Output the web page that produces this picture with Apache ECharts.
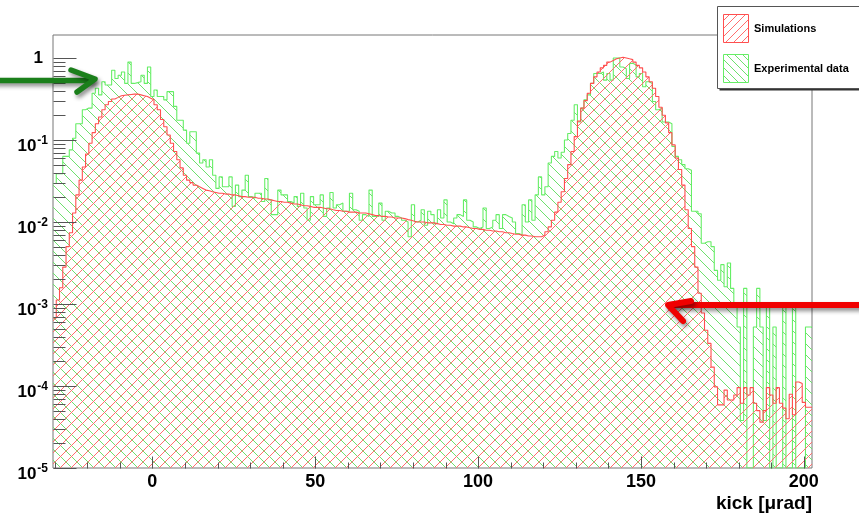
<!DOCTYPE html>
<html>
<head>
<meta charset="utf-8">
<title>kick distribution</title>
<script src="https://cdn.jsdelivr.net/npm/echarts@6.0.0/dist/echarts.min.js"></script>
<style>
  html, body { margin: 0; padding: 0; background: #ffffff; }
  #chart { width: 859px; height: 515px; }
</style>
</head>
<body>
<div id="chart"></div>
<script>
// Histogram binning: 1 µrad bins, first bin starts at -30.5
const binLow = -30.5;
const binWidth = 1;

// Simulated kick distribution, one value per bin (bins centred on -30 ... 202)
const simulations = [
  0.000676, 0.00112, 0.00158, 0.00282, 0.00501, 0.00741, 0.0129, 0.0214, 0.0324, 0.0468,
  0.0676, 0.0912, 0.123, 0.158, 0.191, 0.234, 0.269, 0.295, 0.316, 0.331,
  0.347, 0.351, 0.355, 0.359, 0.363, 0.363, 0.355, 0.347, 0.339, 0.324,
  0.309, 0.269, 0.234, 0.178, 0.145, 0.115, 0.0912, 0.0724, 0.0575, 0.0457,
  0.0372, 0.0324, 0.0302, 0.0282, 0.0269, 0.0257, 0.0245, 0.0240, 0.0234, 0.0229,
  0.0224, 0.0224, 0.0219, 0.0219, 0.0214, 0.0214, 0.0209, 0.0204, 0.0204, 0.0200,
  0.0200, 0.0200, 0.0195, 0.0195, 0.0191, 0.0191, 0.0186, 0.0182, 0.0178, 0.0178,
  0.0174, 0.0174, 0.0170, 0.0166, 0.0166, 0.0162, 0.0158, 0.0158, 0.0155, 0.0151,
  0.0151, 0.0151, 0.0148, 0.0145, 0.0145, 0.0141, 0.0138, 0.0138, 0.0135, 0.0135,
  0.0132, 0.0132, 0.0132, 0.0129, 0.0129, 0.0129, 0.0126, 0.0123, 0.0120, 0.0120,
  0.0117, 0.0117, 0.0115, 0.0115, 0.0112, 0.0112, 0.0112, 0.0110, 0.0107, 0.0105,
  0.0102, 0.0100, 0.0100, 0.0100, 0.00977, 0.00977, 0.00977, 0.00955, 0.00933, 0.00933,
  0.00912, 0.00912, 0.00891, 0.00891, 0.00891, 0.00871, 0.00871, 0.00851, 0.00832, 0.00832,
  0.00813, 0.00813, 0.00794, 0.00794, 0.00776, 0.00776, 0.00759, 0.00759, 0.00741, 0.00741,
  0.00724, 0.00708, 0.00708, 0.00692, 0.00692, 0.00676, 0.00676, 0.00661, 0.00661, 0.00661,
  0.00692, 0.00759, 0.00871, 0.0105, 0.0132, 0.0174, 0.0234, 0.0339, 0.0501, 0.0724,
  0.110, 0.170, 0.245, 0.302, 0.372, 0.490, 0.589, 0.676, 0.759, 0.813,
  0.891, 0.933, 0.977, 1.00, 1.02, 1.00, 0.977, 0.955, 0.891, 0.813,
  0.759, 0.676, 0.589, 0.513, 0.427, 0.339, 0.251, 0.200, 0.162, 0.123,
  0.0871, 0.0603, 0.0437, 0.0282, 0.0141, 0.00832, 0.00501, 0.00282, 0.00135, 0.000776,
  0.000479, 0.000331, 0.000170, 0.0000977, 0.0000589, 0.0000589, 0.0000891, 0.0000676, 0.0000676, 0.0000776,
  0.0000955, 0.0000617, 0.0000955, 0.0000776, 0.0000955, 0.0000617, 0.0000501, 0.0000363, 0.0000501, 0.0000955,
  0.0000776, 0.0000617, 0.0000955, 0.0000617, 0.0000537, 0.0000398, 0.0000794, 0.0000447, 0.000112, 0.000107,
  0.0000631, 0.0000550, 0.0000550
];

// Measured kick distribution, same binning (0 = empty bin)
const experimental = [
  0.0295, 0.0389, 0.0389, 0.0631, 0.0631, 0.0759, 0.105, 0.158, 0.158, 0.234,
  0.245, 0.245, 0.372, 0.427, 0.355, 0.513, 0.468, 0.468, 0.708, 0.562,
  0.617, 0.676, 0.490, 0.891, 0.490, 0.501, 0.513, 0.617, 0.490, 0.776,
  0.339, 0.407, 0.339, 0.339, 0.309, 0.389, 0.389, 0.257, 0.174, 0.174,
  0.132, 0.0912, 0.126, 0.126, 0.0692, 0.0525, 0.0575, 0.0468, 0.0575, 0.0372,
  0.0257, 0.0355, 0.0269, 0.0269, 0.0355, 0.0155, 0.0282, 0.0204, 0.0245, 0.0372,
  0.0204, 0.0195, 0.0224, 0.0224, 0.0178, 0.0339, 0.0186, 0.0123, 0.0123, 0.0245,
  0.0214, 0.0214, 0.0178, 0.0170, 0.0204, 0.0155, 0.0224, 0.0148, 0.0105, 0.0204,
  0.0162, 0.0162, 0.0214, 0.0117, 0.0148, 0.0229, 0.0148, 0.0162, 0.0170, 0.0135,
  0.0135, 0.0224, 0.0141, 0.0135, 0.0105, 0.0123, 0.0117, 0.0245, 0.0117, 0.0117,
  0.0170, 0.0105, 0.0135, 0.0129, 0.0129, 0.0117, 0.0112, 0.0105, 0.0100, 0.00661,
  0.0162, 0.0100, 0.0105, 0.0141, 0.00912, 0.0135, 0.0123, 0.00955, 0.0141, 0.0112,
  0.0186, 0.0100, 0.00955, 0.0112, 0.0123, 0.0117, 0.0186, 0.0105, 0.0100, 0.00871,
  0.00832, 0.00871, 0.0148, 0.00832, 0.00871, 0.0105, 0.0123, 0.00832, 0.0123, 0.0117,
  0.0112, 0.0100, 0.00724, 0.00692, 0.0162, 0.0100, 0.0186, 0.0105, 0.0214, 0.0355,
  0.0214, 0.0269, 0.0525, 0.0631, 0.0724, 0.0603, 0.0708, 0.100, 0.120, 0.174,
  0.269, 0.166, 0.245, 0.309, 0.355, 0.490, 0.646, 0.646, 0.676, 0.537,
  0.646, 0.537, 1.00, 1.00, 0.776, 0.741, 0.562, 0.861, 0.822, 0.589,
  0.646, 0.447, 0.513, 0.490, 0.295, 0.234, 0.245, 0.166, 0.166, 0.158,
  0.0832, 0.0631, 0.0575, 0.0501, 0.0447, 0.0427, 0.0135, 0.0135, 0.0126, 0.00550,
  0.00575, 0.00575, 0.00501, 0.00257, 0.00195, 0.00302, 0.00162, 0.00316, 0.00155, 0.00102,
  0.000525, 0.0000380, 0.00155, 0, 0, 0.000525, 0.00155, 0.000525, 0.0000380, 0.00102,
  0, 0.000525, 0, 0, 0.00102, 0, 0, 0.00102, 0, 0,
  0, 0.000525, 0.000525
];

const xTickLabels = [0, 50, 100, 150, 200];
const yTickLabels = [1e-5, 1e-4, 1e-3, 1e-2, 1e-1, 1];
const seriesNames = ['Simulations', 'Experimental data'];
const xTitle = 'kick [\u03bcrad]';

// Axis ranges
const X_MIN = -30.5, X_MAX = 202.5;
const Y_MIN = 1e-5, Y_MAX = 1.908;

// Arrow annotations (tip positions in data units)
const greenArrowTip = [-17.6, 0.554];
const redArrowTip = [158.3, 9.73e-4];

const FONT = '"Liberation Sans", Arial, Helvetica, sans-serif';
const SIM_LINE = '#ff4f4f', SIM_HATCH = '#ff6e6e';
const EXP_LINE = '#66ee66', EXP_HATCH = '#6ee06e';

// Crisp 1px diagonal hatch tile: dir > 0 draws "/", otherwise "\"
function hatchTile(color, dir, size) {
  const c = document.createElement('canvas');
  c.width = size; c.height = size;
  const g = c.getContext('2d');
  g.fillStyle = color;
  for (let i = 0; i < size; i++) {
    g.fillRect(i, dir > 0 ? size - 1 - i : i, 1, 1);
  }
  return c;
}
const simPattern = { image: hatchTile(SIM_HATCH, 1, 11), repeat: 'repeat' };
const expPattern = { image: hatchTile(EXP_HATCH, -1, 11), repeat: 'repeat' };
const simLegendPattern = { image: hatchTile(SIM_HATCH, 1, 8), repeat: 'repeat' };
const expLegendPattern = { image: hatchTile(EXP_HATCH, -1, 8), repeat: 'repeat' };

// Step outline of a histogram; empty bins drop to the bottom of the log axis
function stepPoints(values) {
  const pts = [];
  values.forEach((v, i) => {
    const y = v > Y_MIN ? v : Y_MIN;
    const x0 = binLow + i * binWidth;
    pts.push([x0, y], [x0 + binWidth, y]);
  });
  return pts;
}

// Inside tick marks, ROOT style: [x, y, length, vertical?]
const tickMarks = [];
for (let e = -5; e <= 0; e++) {
  for (let m = 1; m <= 9; m++) {
    const v = m * Math.pow(10, e);
    if (v <= Y_MAX) tickMarks.push([X_MIN, v, m === 1 ? 23 : 12, 0]);
  }
}
for (let x = -30; x <= 200; x += 10) {
  tickMarks.push([x, Y_MIN, x % 50 === 0 ? 12 : 6, 1]);
}

// Text measuring for the superscript exponents
const measureCtx = document.createElement('canvas').getContext('2d');
const MAIN_FONT = 'bold 17px ' + FONT;
const SUP_FONT = 'bold 12px ' + FONT;
function textWidth(t, font) { measureCtx.font = font; return measureCtx.measureText(t).width; }

const chart = echarts.init(document.getElementById('chart'), null, { renderer: 'canvas' });

function histSeries(name, values, lineColor, pattern, z) {
  return {
    name: name,
    type: 'line',
    data: stepPoints(values),
    showSymbol: false,
    symbol: 'none',
    smooth: false,
    silent: true,
    z: z,
    lineStyle: { color: lineColor, width: 1.1 },
    areaStyle: { color: pattern, origin: 'start', opacity: 1 },
    animation: false
  };
}

chart.setOption({
  animation: false,
  backgroundColor: '#ffffff',
  grid: {
    left: 53, right: 47, top: 35, bottom: 47,
    show: true, borderColor: '#777777', borderWidth: 1, backgroundColor: 'transparent'
  },
  xAxis: {
    type: 'value',
    min: X_MIN, max: X_MAX,
    axisLine: { show: false },
    axisTick: { show: false },
    splitLine: { show: false },
    axisLabel: {
      customValues: xTickLabels,
      margin: 5,
      fontFamily: FONT, fontWeight: 'bold', fontSize: 18, color: '#000'
    },
    name: xTitle,
    nameLocation: 'end',
    nameGap: 0,
    nameTextStyle: {
      fontFamily: FONT, fontWeight: 'bold', fontSize: 19, color: '#000',
      align: 'right', verticalAlign: 'top', padding: [26, 0, 0, 0]
    }
  },
  yAxis: {
    type: 'log',
    logBase: 10,
    min: Y_MIN, max: Y_MAX,
    axisLine: { show: false },
    axisTick: { show: false },
    splitLine: { show: false },
    axisLabel: { show: false }
  },
  series: [
    histSeries(seriesNames[1], experimental, EXP_LINE, expPattern, 2),
    histSeries(seriesNames[0], simulations, SIM_LINE, simPattern, 3),
    {
      type: 'custom',
      name: 'axis ticks',
      data: tickMarks,
      clip: false,
      silent: true,
      z: 6,
      encode: { x: 0, y: 1 },
      renderItem: function (params, api) {
        const p = api.coord([api.value(0), api.value(1)]);
        const len = api.value(2);
        const vertical = api.value(3) === 1;
        const x = Math.round(p[0]) + 0.5;
        const y = Math.round(p[1]) + 0.5;
        return {
          type: 'line',
          shape: vertical ? { x1: x, y1: y, x2: x, y2: y - len } : { x1: x, y1: y, x2: x + len, y2: y },
          style: { stroke: '#555555', lineWidth: 1 }
        };
      }
    },
    {
      // decade labels of the log axis: "1", then 10 with a raised exponent
      type: 'custom',
      name: 'y labels',
      data: yTickLabels.map(v => [X_MIN, v]),
      clip: false,
      silent: true,
      z: 6,
      encode: { x: 0, y: 1 },
      renderItem: function (params, api) {
        const v = api.value(1);
        const p = api.coord([X_MIN, v]);
        const e = Math.round(Math.log10(v));
        if (e === 0) {
          return {
            type: 'text',
            style: { text: '1', x: p[0] - 10, y: p[1], align: 'right', verticalAlign: 'middle', font: MAIN_FONT, fill: '#000' }
          };
        }
        const sup = String(e);
        const supW = textWidth(sup, SUP_FONT);
        const right = p[0] - 5;
        return {
          type: 'group',
          children: [
            { type: 'text', style: { text: '10', x: right - supW - 1, y: p[1] + 6, align: 'right', verticalAlign: 'middle', font: MAIN_FONT, fill: '#000' } },
            { type: 'text', style: { text: sup, x: right, y: p[1] + 1, align: 'right', verticalAlign: 'middle', font: SUP_FONT, fill: '#000' } }
          ]
        };
      }
    }
  ]
});

// Annotations: arrows and the legend box
const gTip = chart.convertToPixel({ gridIndex: 0 }, greenArrowTip);
const rTip = chart.convertToPixel({ gridIndex: 0 }, redArrowTip);
const W = chart.getWidth();

const arrowShadow = { shadowBlur: 4, shadowColor: 'rgba(0,0,0,0.45)', shadowOffsetX: 2, shadowOffsetY: 3 };
function arrowStyle(color, width) {
  return Object.assign({ stroke: color, lineWidth: width, fill: null, lineCap: 'round', lineJoin: 'round' }, arrowShadow);
}

const legendX = 717.5, legendY = 6.5;
chart.setOption({
  graphic: [
    // green arrow pointing right
    { type: 'polyline', z: 100, shape: { points: [[-10, gTip[1] + 1.5], [gTip[0] - 3, gTip[1] + 1.5]] }, style: arrowStyle('#1b7f1b', 5.5) },
    { type: 'polyline', z: 100, shape: { points: [[gTip[0] - 24, gTip[1] - 9], [gTip[0], gTip[1]], [gTip[0] - 18, gTip[1] + 13]] }, style: arrowStyle('#1b7f1b', 5.5) },
    // red arrow pointing left
    { type: 'polyline', z: 100, shape: { points: [[W + 10, rTip[1]], [rTip[0] + 2, rTip[1]]] }, style: arrowStyle('#f00000', 6) },
    { type: 'polyline', z: 100, shape: { points: [[rTip[0] + 23, rTip[1] - 4], [rTip[0], rTip[1]], [rTip[0] + 15, rTip[1] + 16]] }, style: arrowStyle('#f00000', 6) },
    // legend
    { type: 'rect', z: 110, shape: { x: legendX + 2, y: legendY + 2, width: 160, height: 82 }, style: { fill: '#333333' } },
    { type: 'rect', z: 111, shape: { x: legendX, y: legendY, width: 160, height: 82 }, style: { fill: '#ffffff', stroke: '#555555', lineWidth: 1 } },
    { type: 'rect', z: 112, shape: { x: 723.5, y: 14.5, width: 25, height: 28 }, style: { fill: simLegendPattern, stroke: SIM_LINE, lineWidth: 1 } },
    { type: 'rect', z: 112, shape: { x: 723.5, y: 54.5, width: 25, height: 28 }, style: { fill: expLegendPattern, stroke: EXP_LINE, lineWidth: 1 } },
    { type: 'text', z: 112, style: { text: seriesNames[0], x: 754, y: 29, verticalAlign: 'middle', font: 'bold 11px ' + FONT, fill: '#000' } },
    { type: 'text', z: 112, style: { text: seriesNames[1], x: 754, y: 69, verticalAlign: 'middle', font: 'bold 11px ' + FONT, fill: '#000' } }
  ]
});
</script>
</body>
</html>
